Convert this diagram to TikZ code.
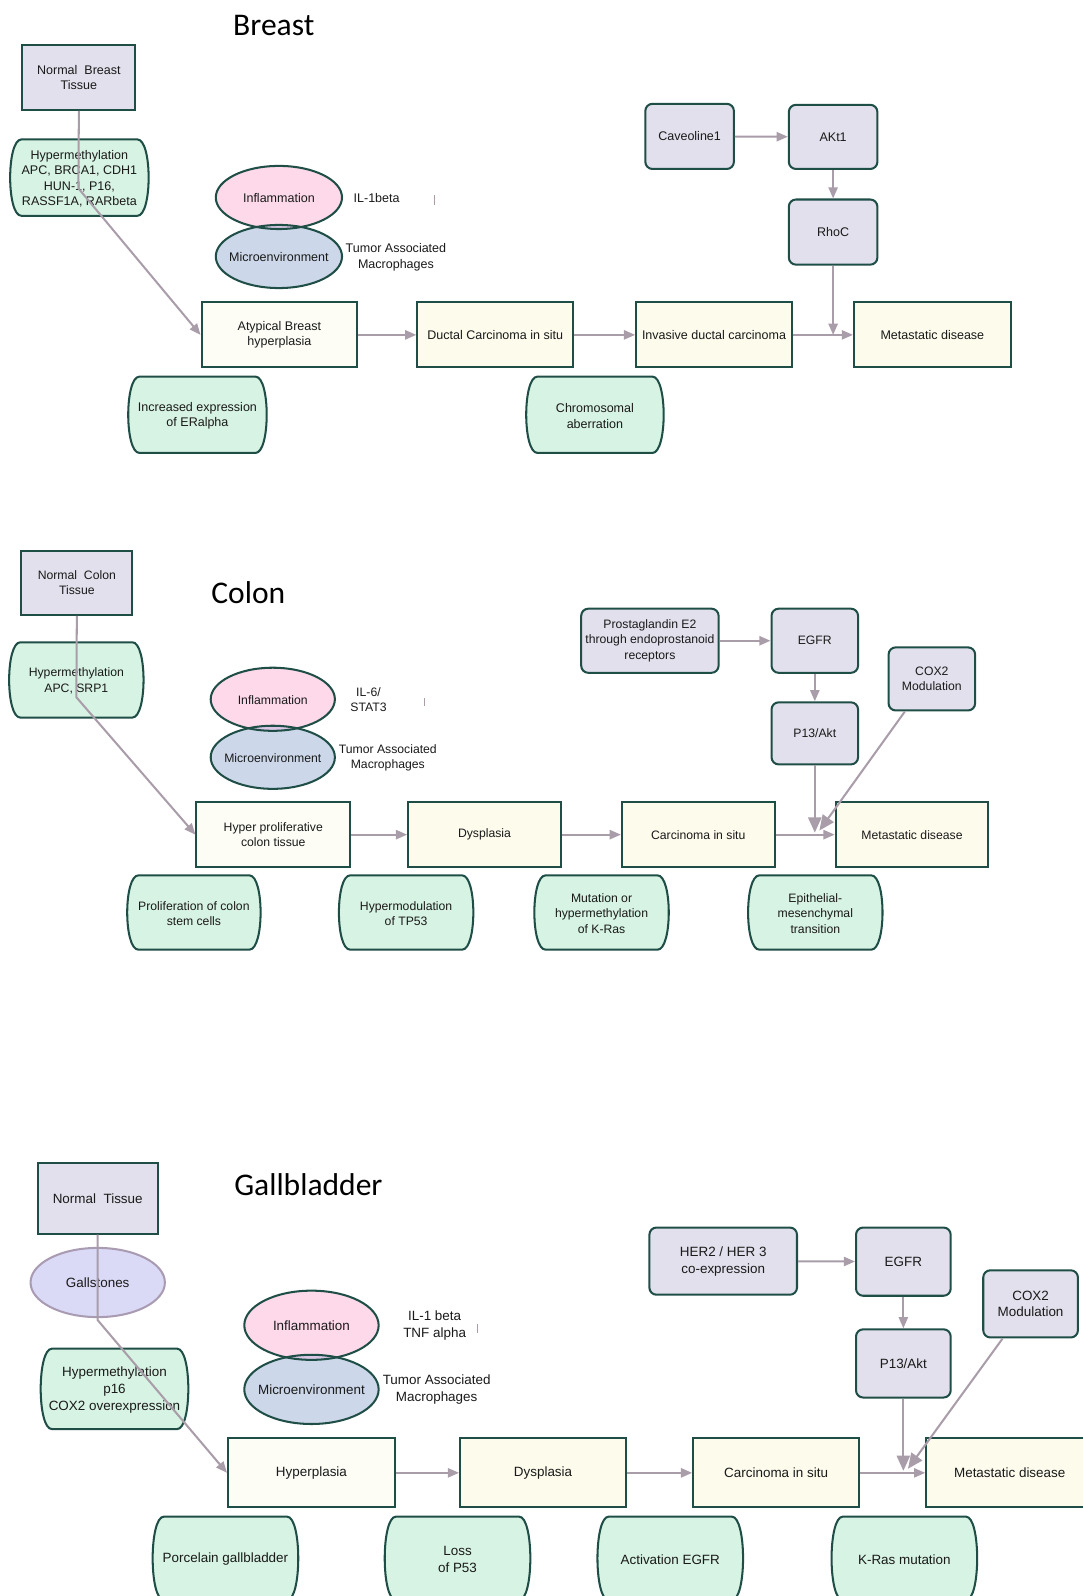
\documentclass[tikz,border=0pt]{standalone}
\usepackage{fontspec}
\setmainfont{Liberation Sans}
\newfontfamily\titlefont{Carlito}
\usetikzlibrary{arrows.meta,shapes.geometric,calc}

\definecolor{bord}{HTML}{1F4E47}
\definecolor{lav}{HTML}{E2E0EC}
\definecolor{grn}{HTML}{D7F3E3}
\definecolor{crm}{HTML}{FDFBEC}
\definecolor{crmb}{HTML}{FDFDF6}
\definecolor{pnk}{HTML}{FDD9EA}
\definecolor{blu}{HTML}{CCD8EA}
\definecolor{ovl}{HTML}{D9C7E5}
\definecolor{arr}{HTML}{A99DA9}
\definecolor{gst}{HTML}{DADAF7}
\definecolor{gstb}{HTML}{A89BB2}
\definecolor{txt}{HTML}{1A1A1A}

\tikzset{
 every node/.style={text=txt},
 fB/.style={font=\fontsize{12.3}{15.3}\selectfont},
 fC/.style={font=\fontsize{12}{15}\selectfont},
 fG/.style={font=\fontsize{13.2}{16.5}\selectfont},
 ftitle/.style={font=\titlefont\fontsize{31}{31}\selectfont, text=black},
 sq/.style={draw=bord, line width=2pt, fill=lav, align=center, inner sep=0pt},
 rr/.style={sq, rounded corners=7pt},
 stage/.style={draw=bord, line width=2pt, fill=crm, align=center, inner sep=0pt},
 stageA/.style={stage, fill=crmb},
 gshape/.style={draw=bord, line width=2pt, fill=grn},
 eline/.style={draw=bord, line width=2pt},
 conn/.style={draw=arr, line width=2pt, -{Triangle[length=11pt,width=9pt]}},
 connbig/.style={draw=arr, line width=2pt, -{Triangle[length=15pt,width=13pt]}},
 tick/.style={draw=arr, line width=1.6pt},
 lbl/.style={align=center, inner sep=0pt}
}

% green "bulged" box: name, x1, y1, x2, y2, font style, text
\newcommand{\gbox}[7]{%
 \draw[gshape] ({#2+11},{#3}) -- ({#4-11},{#3})
   .. controls ({#4+3.7},{#3}) and ({#4+3.7},{#5}) .. ({#4-11},{#5})
   -- ({#2+11},{#5})
   .. controls ({#2-3.7},{#5}) and ({#2-3.7},{#3}) .. ({#2+11},{#3}) -- cycle;
 \node[#6, lbl] (#1) at ({(#2+#4)/2},{(#3+#5)/2+1}) {#7};
}
\newcommand{\ellpair}[5]{%
 \fill[pnk] (#1,#2) ellipse [x radius=#4, y radius=#5];
 \fill[blu] (#1,#3) ellipse [x radius=#4, y radius=#5];
 \begin{scope}
  \clip (#1,#2) ellipse [x radius=#4, y radius=#5];
  \fill[ovl] (#1,#3) ellipse [x radius=#4, y radius=#5];
 \end{scope}
 \draw[eline] (#1,#2) ellipse [x radius=#4, y radius=#5];
 \draw[eline] (#1,#3) ellipse [x radius=#4, y radius=#5];
}

\begin{document}
\begin{tikzpicture}[x=1pt,y=-1pt]
\useasboundingbox (0,0) rectangle (1064,1568);

%%%%%%%%%%%%%%%% BREAST %%%%%%%%%%%%%%%%
\node[ftitle] (tB) at (269,25) {Breast};
\node[sq,fB,minimum width=111,minimum height=64] (nbt) at (77.5,76) {Normal~ Breast\\Tissue};
\gbox{hmB}{10}{137}{146}{212}{fB}{Hypermethylation\\APC, BRCA1, CDH1\\HUN-1, P16,\\RASSF1A, RARbeta}

\ellpair{274}{194}{252}{62}{31}
\node[fB] (infB) at (274,194.5) {Inflammation};
\node[fB] (micB) at (274,252.5) {Microenvironment};
\node[fB,lbl] (ilB) at (370,194.5) {IL-1beta};
\node[fB,lbl] (tamB) at (389,252.5) {Tumor Associated\\Macrophages};
\draw[tick] (427,192) -- (427,201);

\node[rr,fB,minimum width=87,minimum height=64] (cav) at (677.5,134) {Caveoline1};
\node[rr,fB,minimum width=87,minimum height=63] (akt) at (818.5,134.5) {AKt1};
\node[rr,fB,minimum width=87,minimum height=64] (rhoc) at (818.5,228) {RhoC};

\node[stageA,fB,minimum width=153,minimum height=64] (abh) at (274.5,329) {Atypical Breast\\hyperplasia};
\node[stage,fB,minimum width=153,minimum height=64] (dcis) at (486.5,329) {Ductal Carcinoma in situ};
\node[stage,fB,minimum width=153,minimum height=64] (idc) at (701.5,329) {Invasive ductal carcinoma};
\node[stage,fB,minimum width=154,minimum height=64] (metB) at (916,329) {Metastatic disease};

\gbox{erB}{126}{370}{262}{445}{fB}{Increased expression\\of ERalpha}
\gbox{chB}{517}{370}{652}{445}{fB}{Chromosomal\\aberration}

\coordinate (bkB) at (77,185);
\draw[conn] (nbt.south) -- (bkB) -- (abh.west);
\draw[conn] (abh) -- (dcis);
\draw[conn] (dcis) -- (idc);
\draw[conn] (idc) -- (metB);
\draw[conn] (cav) -- (akt);
\draw[conn] (akt) -- (rhoc);
\draw[conn] (rhoc.south) -- (rhoc.south |- idc.east);

%%%%%%%%%%%%%%%% COLON %%%%%%%%%%%%%%%%
\node[ftitle] (tC) at (244,582) {Colon};
\node[sq,fC,minimum width=109,minimum height=63] (nct) at (75.5,572.5) {Normal~ Colon\\Tissue};
\gbox{hmC}{9}{631}{141}{705}{fC}{Hypermethylation\\APC, SRP1}

\ellpair{268}{687}{744}{61}{31}
\node[fC] (infC) at (268,687.5) {Inflammation};
\node[fC] (micC) at (268,744.5) {Microenvironment};
\node[fC,lbl] (ilC) at (362,687.5) {IL-6/\\STAT3};
\node[fC,lbl] (tamC) at (381,744.5) {Tumor Associated\\Macrophages};
\draw[tick] (417,686) -- (417,694);

\node[rr,fC,minimum width=135,minimum height=63] (pge) at (638.5,629.5) {Prostaglandin E2\\through endoprostanoid\\receptors};
\node[rr,fC,minimum width=85,minimum height=63] (egfrC) at (800.5,629.5) {EGFR};
\node[rr,fC,minimum width=85,minimum height=61] (piC) at (800.5,720.5) {P13/Akt};
\node[rr,fC,minimum width=85,minimum height=62] (coxC) at (915.5,667) {COX2\\Modulation};

\node[stageA,fC,minimum width=151,minimum height=64] (hpc) at (268.5,820) {Hyper proliferative\\colon tissue};
\node[stage,fC,minimum width=150,minimum height=64] (dysC) at (476,820) {Dysplasia};
\node[stage,fC,minimum width=150,minimum height=64] (cisC) at (686,820) {Carcinoma in situ};
\node[stage,fC,minimum width=150,minimum height=64] (metC) at (896,820) {Metastatic disease};

\gbox{pcs}{125}{860}{256}{933}{fC}{Proliferation of colon\\stem cells}
\gbox{tp53}{333}{860}{465}{933}{fC}{Hypermodulation\\of TP53}
\gbox{kras}{525}{860}{657}{933}{fC}{Mutation or\\hypermethylation\\of K-Ras}
\gbox{emt}{735}{860}{867}{933}{fC}{Epithelial-\\mesenchymal\\transition}

\coordinate (bkC) at (75,685);
\draw[conn] (nct.south) -- (bkC) -- (hpc.west);
\draw[conn] (hpc) -- (dysC);
\draw[conn] (dysC) -- (cisC);
\draw[conn] (cisC) -- (metC);
\draw[conn] (pge) -- (egfrC);
\draw[conn] (egfrC) -- (piC);
\coordinate (jC) at (800.5,818);
\coordinate (jC2) at (805,816);
\draw[connbig] (piC.south) -- (jC);
\draw[connbig] ([xshift=17pt]coxC.south west) -- (jC2);

%%%%%%%%%%%%%%%% GALLBLADDER %%%%%%%%%%%%%%%%
\node[ftitle] (tG) at (303,1164) {Gallbladder};
\node[sq,fG,minimum width=118,minimum height=69] (nt) at (96,1177.5) {Normal~ Tissue};
\node[ellipse, draw=gstb, line width=2pt, fill=gst, minimum width=132, minimum height=68, inner sep=0pt, fG] (gs) at (96,1260) {Gallstones};
\gbox{hmG}{40}{1325}{185}{1404}{fG}{Hypermethylation\\p16\\COX2 overexpression}

\ellpair{306}{1302}{1365}{66}{34}
\node[fG] (infG) at (306,1302.5) {Inflammation};
\node[fG] (micG) at (306,1365.5) {Microenvironment};
\node[fG,lbl] (ilG) at (427,1302.5) {IL-1 beta\\TNF alpha};
\node[fG,lbl] (tamG) at (429,1365.5) {Tumor Associated\\Macrophages};
\draw[tick] (469,1301) -- (469,1310);

\node[rr,fG,minimum width=145,minimum height=66] (her) at (710.5,1239) {HER2 / HER 3\\co-expression};
\node[rr,fG,minimum width=93,minimum height=67] (egfrG) at (887.5,1239.5) {EGFR};
\node[rr,fG,minimum width=93,minimum height=67] (piG) at (887.5,1339.5) {P13/Akt};
\node[rr,fG,minimum width=93,minimum height=66] (coxG) at (1012.5,1281) {COX2\\Modulation};

\node[stageA,fG,minimum width=164,minimum height=68] (hypG) at (306,1447) {Hyperplasia};
\node[stage,fG,minimum width=163,minimum height=68] (dysG) at (533.5,1447) {Dysplasia};
\node[stage,fG,minimum width=163,minimum height=68] (cisG) at (762.5,1447) {Carcinoma in situ};
\node[stage,fG,minimum width=164,minimum height=68] (metG) at (992,1447) {Metastatic disease};

\gbox{porc}{150}{1490}{293}{1572}{fG}{Porcelain gallbladder}
\gbox{p53}{378}{1490}{521}{1572}{fG}{Loss\\of P53}
\gbox{aegfr}{587}{1490}{730}{1572}{fG}{Activation EGFR}
\gbox{krasG}{817}{1490}{960}{1572}{fG}{K-Ras mutation}

\coordinate (bkG) at (96,1297);
\draw[conn] (nt.south) -- (bkG) -- (hypG.west);
\draw[conn] (hypG) -- (dysG);
\draw[conn] (dysG) -- (cisG);
\draw[conn] (cisG) -- (metG);
\draw[conn] (her) -- (egfrG);
\draw[conn] (egfrG) -- (piG);
\coordinate (jG) at (887.5,1445);
\coordinate (jG2) at (892,1443);
\draw[connbig] (piG.south) -- (jG);
\draw[connbig] ([xshift=20pt]coxG.south west) -- (jG2);
\end{tikzpicture}
\end{document}
